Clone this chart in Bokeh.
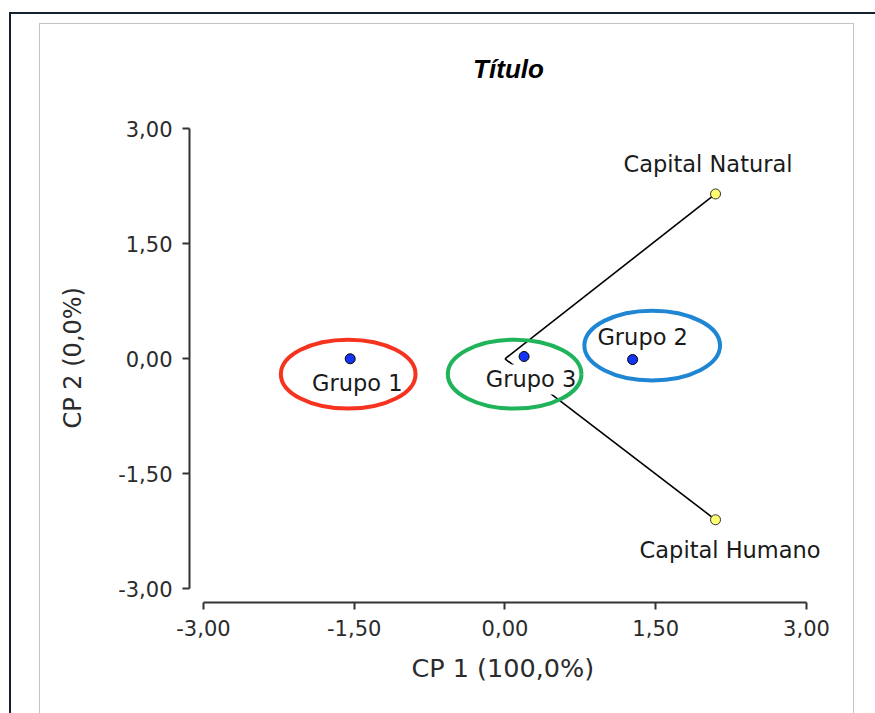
from bokeh.plotting import figure
from bokeh.models import Range1d, FixedTicker, Label, Title, InlineStyleSheet
from bokeh.core.properties import value
from bokeh.embed import file_html
from bokeh.resources import INLINE

# ---- data ----
groups = ["Grupo 1", "Grupo 2", "Grupo 3"]
group_x = [-1.54, 1.27, 0.19]
group_y = [0.00, -0.01, 0.03]
group_label_x = [-1.47, 1.37, 0.26]
group_label_y = [-0.31, 0.28, -0.27]
ellipse_x = [-1.56, 1.465, 0.096]
ellipse_y = [-0.20, 0.173, -0.20]
ellipse_w = [1.34, 1.35, 1.33]
ellipse_h = [0.90, 0.91, 0.90]
ellipse_colors = ["#f5331f", "#1f86d4", "#1fb35a"]

variables = ["Capital Natural", "Capital Humano"]
var_x = [2.095, 2.095]
var_y = [2.15, -2.10]
var_label_x = [2.02, 2.24]
var_label_y = [2.545, -2.49]

tick_values = [-3.0, -1.5, 0.0, 1.5, 3.0]
tick_labels = ["-3,00", "-1,50", "0,00", "1,50", "3,00"]
x_title = "CP 1 (100,0%)"
y_title = "CP 2 (0,0%)"
chart_title = "Título"

FONT = "DejaVu Sans"
AXC = "#333333"
TXT = "#2b2b2b"

p = figure(width=875, height=713,
           x_range=Range1d(-3.139, 3.438), y_range=Range1d(-3.179, 4.152),
           output_backend="svg", toolbar_location=None,
           min_border_left=189, min_border_right=25,
           min_border_top=40, min_border_bottom=111)
p.grid.visible = False
p.outline_line_color = None
p.background_fill_color = "white"
p.border_fill_color = "white"

overrides = {v: t for v, t in zip(tick_values, tick_labels)}
for ax in (p.xaxis[0], p.yaxis[0]):
    ax.ticker = FixedTicker(ticks=tick_values)
    ax.major_label_overrides = overrides
    ax.bounds = (-3, 3)
    ax.axis_line_color = AXC
    ax.axis_line_width = 2
    ax.major_tick_line_color = AXC
    ax.major_tick_line_width = 2
    ax.major_tick_in = 0
    ax.major_tick_out = 7
    ax.minor_tick_line_color = None
    ax.major_label_text_font = FONT
    ax.major_label_text_font_size = "21px"
    ax.major_label_text_color = TXT
    ax.major_label_standoff = 10

# axis titles, centred on the axis bounds (-3..3) as in the reference
p.add_layout(Title(text=x_title, align="left", offset=222, standoff=24,
                   text_font=FONT, text_font_size="25.5px", text_font_style="normal",
                   text_color=TXT), "below")
p.add_layout(Title(text=y_title, align="left", offset=174, standoff=58,
                   text_font=FONT, text_font_size="24px", text_font_style="normal",
                   text_color=TXT), "left")

# vectors from origin to variables
p.segment(x0=[0, 0], y0=[0, 0], x1=var_x, y1=var_y, line_color="black", line_width=1.6)

# labels
p.text(x=group_label_x, y=group_label_y, text=groups,
       text_font=value(FONT), text_font_size="22.5px", text_color="#1a1a1a",
       text_align="center", text_baseline="middle",
       background_fill_color="white", padding=2)
p.text(x=var_label_x, y=var_label_y, text=variables,
       text_font=value(FONT), text_font_size="22.5px", text_color="#1a1a1a",
       text_align="center", text_baseline="middle")

# group ellipses
p.ellipse(x=ellipse_x, y=ellipse_y, width=ellipse_w, height=ellipse_h,
          fill_color=None, line_color=ellipse_colors, line_width=4)

# points
p.scatter(x=group_x, y=group_y, size=10, fill_color="#1434f5",
          line_color="black", line_width=1)
p.scatter(x=var_x, y=var_y, size=10, fill_color="#ffff70",
          line_color="#333333", line_width=1)

# title
p.add_layout(Label(x=0.035, y=3.786, text=chart_title, text_font="Liberation Sans",
                   text_font_style="bold italic", text_font_size="26px",
                   text_align="center", text_baseline="middle", text_color="black"))

# frame decorations (outer window edge + light panel border)
p.stylesheets = [InlineStyleSheet(css="""
:host { position: relative; }
:host::before {
  content: ""; position: absolute; z-index: 100; pointer-events: none;
  left: 8.5px; top: 11.8px; right: 0; bottom: 0;
  border-top: 2px solid #14202e; border-left: 2px solid #14202e;
}
:host::after {
  content: ""; position: absolute; z-index: 100; pointer-events: none;
  left: 39px; top: 23px; width: 813px; bottom: 0;
  border: 1px solid #c4c4c4; border-bottom: none;
}
""")]

open("out.html", "w").write(file_html(p, INLINE))
